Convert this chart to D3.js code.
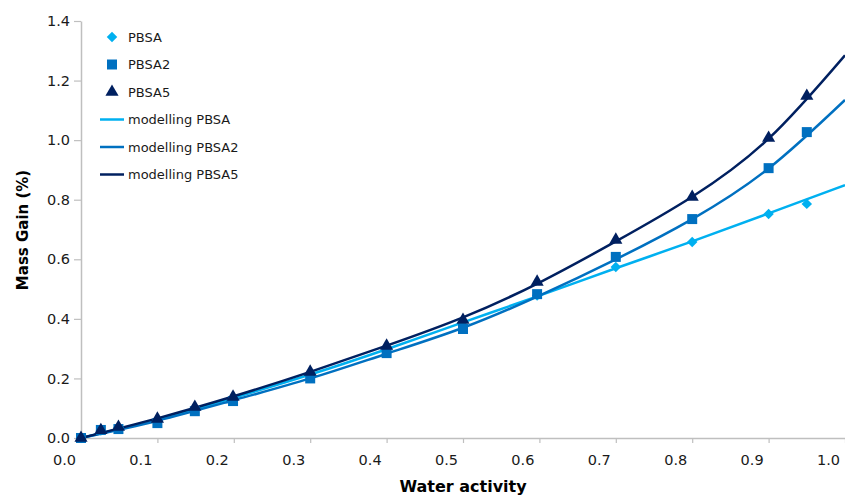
<!DOCTYPE html>
<html>
<head>
<meta charset="utf-8">
<script src="https://cdn.jsdelivr.net/npm/d3@7"></script>
<style>
  html, body { margin: 0; padding: 0; background: #fff; }
  svg { display: block; }
</style>
</head>
<body>
<svg id="chart" width="845" height="498"></svg>
<script>
// ---- data ----
const waterActivity = [0, 0.026, 0.049, 0.1, 0.149, 0.199, 0.3, 0.4, 0.5, 0.597, 0.7, 0.8, 0.9, 0.95];
const pbsa  = [0, 0.025, 0.035, 0.06, 0.095, 0.13, 0.21, 0.30, 0.39, 0.478, 0.574, 0.658, 0.752, 0.786];
const pbsa2 = [0, 0.027, 0.03, 0.05, 0.09, 0.124, 0.20, 0.285, 0.366, 0.483, 0.608, 0.735, 0.906, 1.027];
const pbsa5 = [0, 0.026, 0.037, 0.064, 0.104, 0.138, 0.222, 0.309, 0.396, 0.524, 0.665, 0.809, 1.007, 1.148];

const modelAw     = [0, 0.1, 0.2, 0.3, 0.4, 0.5, 0.6, 0.7, 0.8, 0.9, 1.0];
const modelPbsa   = [0, 0.062, 0.135, 0.213, 0.298, 0.388, 0.478, 0.570, 0.660, 0.754, 0.849];
const modelPbsa2  = [0, 0.058, 0.127, 0.200, 0.283, 0.370, 0.478, 0.600, 0.735, 0.905, 1.135];
const modelPbsa5  = [0, 0.066, 0.140, 0.222, 0.310, 0.405, 0.522, 0.660, 0.810, 1.005, 1.285];

const xTicks = [0, 0.1, 0.2, 0.3, 0.4, 0.5, 0.6, 0.7, 0.8, 0.9, 1.0];
const yTicks = [0, 0.2, 0.4, 0.6, 0.8, 1.0, 1.2, 1.4];

const seriesNames = ["PBSA", "PBSA2", "PBSA5"];
const modelNames  = ["modelling PBSA", "modelling PBSA2", "modelling PBSA5"];
const colors = ["#00b0f0", "#0070c0", "#002060"];

// ---- drawing ----
const svg = d3.select("#chart");
const x = d3.scaleLinear().domain([0, 1]).range([81, 845]);
const y = d3.scaleLinear().domain([0, 1.4]).range([438, 21]);
const axisColor = "#bfbfbf";
const font = "'DejaVu Sans', Verdana, sans-serif";

// x axis
const gx = svg.append("g").attr("transform", `translate(0,${y(0)})`)
  .call(d3.axisBottom(x).tickValues(xTicks).tickFormat(d3.format(".1f")).tickSize(5).tickSizeOuter(0));
gx.select(".domain").attr("stroke", axisColor).attr("stroke-width", 1.5);
gx.selectAll(".tick line").attr("stroke", axisColor).attr("stroke-width", 1.2);
gx.selectAll(".tick text").attr("fill", "#1a1a1a").attr("font-family", font).attr("font-size", 14.5)
  .attr("dx", -17).attr("y", 17);

// y axis
const gy = svg.append("g").attr("transform", `translate(${x(0)},0)`)
  .call(d3.axisLeft(y).tickValues(yTicks).tickFormat(d3.format(".1f")).tickSize(7).tickSizeOuter(0));
gy.select(".domain").attr("stroke", axisColor).attr("stroke-width", 1.5);
gy.selectAll(".tick line").attr("stroke", axisColor).attr("stroke-width", 1.2);
gy.selectAll(".tick text").attr("fill", "#1a1a1a").attr("font-family", font).attr("font-size", 14.5)
  .attr("x", -11);

// axis titles
svg.append("text").attr("x", 463).attr("y", 492).attr("text-anchor", "middle")
  .attr("font-family", font).attr("font-weight", "bold").attr("font-size", 16).attr("fill", "#000")
  .text("Water activity");
svg.append("text").attr("transform", "translate(28,230) rotate(-90)").attr("text-anchor", "middle")
  .attr("font-family", font).attr("font-weight", "bold").attr("font-size", 15).attr("fill", "#000")
  .text("Mass Gain (%)");

// model lines
const line = d3.line().x(d => x(d[0])).y(d => y(d[1])).curve(d3.curveNatural);
[modelPbsa, modelPbsa2, modelPbsa5].forEach((vals, i) => {
  svg.append("path").datum(modelAw.map((a, j) => [a, vals[j]]))
    .attr("d", line).attr("fill", "none").attr("stroke", colors[i]).attr("stroke-width", 2.5);
});

// markers
const symbols = [
  d3.symbol().type(d3.symbolDiamond2).size(70),
  d3.symbol().type(d3.symbolSquare).size(100),
  d3.symbol().type(d3.symbolTriangle).size(75)
];
[pbsa, pbsa2, pbsa5].forEach((vals, i) => {
  svg.append("g").selectAll("path").data(waterActivity.map((a, j) => [a, vals[j]]))
    .join("path")
    .attr("transform", d => `translate(${x(d[0])},${y(d[1])})`)
    .attr("d", symbols[i]).attr("fill", colors[i]);
});

// legend
const legendY = [37, 64.5, 92, 119.5, 147, 174.5];
const lg = svg.append("g");
seriesNames.forEach((name, i) => {
  lg.append("path").attr("transform", `translate(112,${legendY[i]})`)
    .attr("d", symbols[i]).attr("fill", colors[i]);
  lg.append("text").attr("x", 128).attr("y", legendY[i]).attr("dy", "0.35em")
    .attr("font-family", font).attr("font-size", 13).attr("fill", "#1a1a1a").text(name);
});
modelNames.forEach((name, i) => {
  const yy = legendY[i + 3];
  lg.append("line").attr("x1", 100).attr("x2", 124).attr("y1", yy).attr("y2", yy)
    .attr("stroke", colors[i]).attr("stroke-width", 2.5);
  lg.append("text").attr("x", 128).attr("y", yy).attr("dy", "0.35em")
    .attr("font-family", font).attr("font-size", 13).attr("fill", "#1a1a1a").text(name);
});
</script>
</body>
</html>
